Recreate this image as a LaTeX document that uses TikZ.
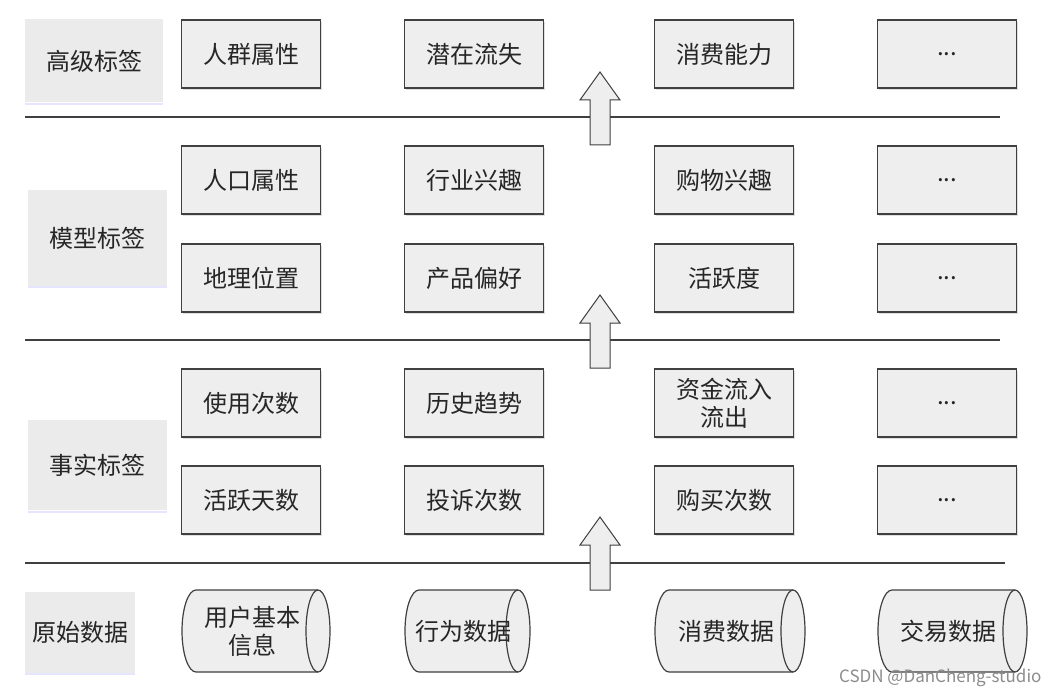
\documentclass[tikz,border=0pt]{standalone}
\usepackage{fontspec}
\setmainfont{Noto Sans CJK SC}
\usetikzlibrary{shadows}
\definecolor{bx}{HTML}{EEEEEE}
\definecolor{lb}{HTML}{EBEBEB}
\definecolor{ln}{HTML}{404040}
\newcommand\mydots{...}
\begin{document}
\begin{tikzpicture}[x=1pt,y=-1pt,
  tag/.style={draw=ln,line width=1.2pt,fill=bx,minimum width=139pt,minimum height=68pt,font=\fontsize{24}{28}\selectfont,text=black!85,align=center,drop shadow={shadow xshift=1pt,shadow yshift=-2pt,opacity=.25}},
  lab/.style={fill=lb,font=\fontsize{24}{28}\selectfont,text=black!85},
  sep/.style={draw=ln,line width=1.2pt},
  bigarrow/.style={draw=ln,line width=1pt,fill=bx},
  cyl/.style={draw=ln,line width=1.2pt,fill=bx}]
\useasboundingbox (0,0) rectangle (1058,698);
\fill[white] (0,0) rectangle (1058,698);
% labels
\node[lab,minimum width=138pt,minimum height=83pt] (l1) at (94,61) {高级标签};
\node[lab,minimum width=139pt,minimum height=95pt] (l2) at (97,238) {模型标签};
\node[lab,minimum width=139pt,minimum height=90pt] (l3) at (97,465) {事实标签};
\node[lab,minimum width=110pt,minimum height=81pt] (l4) at (80,632) {原始数据};
\foreach \y/\a/\b in {104/25/163,287/28/167,512/28/167,674/25/135}
  \draw[blue!10,line width=2pt] (\a,\y) -- (\b,\y);
% separators
\draw[sep] (25,117) -- (1000,117);
\draw[sep] (25,340) -- (1000,340);
\draw[sep] (25,563) -- (1005,563);
% boxes
\foreach \n/\x/\y/\t in {
 a1/251/54/人群属性, a2/474/54/潜在流失, a3/724/54/消费能力, a4/947/54/\mydots,
 b1/251/180/人口属性, b2/474/180/行业兴趣, b3/724/180/购物兴趣, b4/947/180/\mydots,
 c1/251/278/地理位置, c2/474/278/产品偏好, c3/724/278/活跃度, c4/947/278/\mydots,
 d1/251/403/使用次数, d2/474/403/历史趋势, d3/724/403/{资金流入\\流出}, d4/947/403/\mydots,
 e1/251/500/活跃天数, e2/474/500/投诉次数, e3/724/500/购买次数, e4/947/500/\mydots}
  \node[tag] (\n) at (\x,\y) {\t};
% block arrows
\foreach \t in {72,295,517}
  \draw[bigarrow] (590,\t+73) -- (590,\t+28) -- (580,\t+28) -- (600,\t) -- (620,\t+28) -- (610,\t+28) -- (610,\t+73) -- cycle;
% cylinders
\foreach \n/\a/\b/\t in {f1/182/330/{用户基本\\信息}, f2/405/530/行为数据, f3/655/805/消费数据, f4/878/1027/交易数据}{
  \fill[cyl] (\a+14,590) -- (\b-12,590) arc[start angle=90,end angle=-90,x radius=12pt,y radius=41pt]
     -- (\a+14,672) arc[start angle=270,end angle=90,x radius=14pt,y radius=41pt] -- cycle;
  \draw[cyl,fill=none] (\b-12,590) arc[start angle=90,end angle=270,x radius=12pt,y radius=41pt];
  \node[font=\fontsize{24}{28}\selectfont,text=black!85,align=center] (\n) at ({(\a+\b)/2-4},631) {\t};
}
\node[text=black!45,font=\fontsize{17}{20}\selectfont,anchor=east] (wm) at (1045,678) {CSDN @DanCheng-studio};
\end{tikzpicture}
\end{document}
